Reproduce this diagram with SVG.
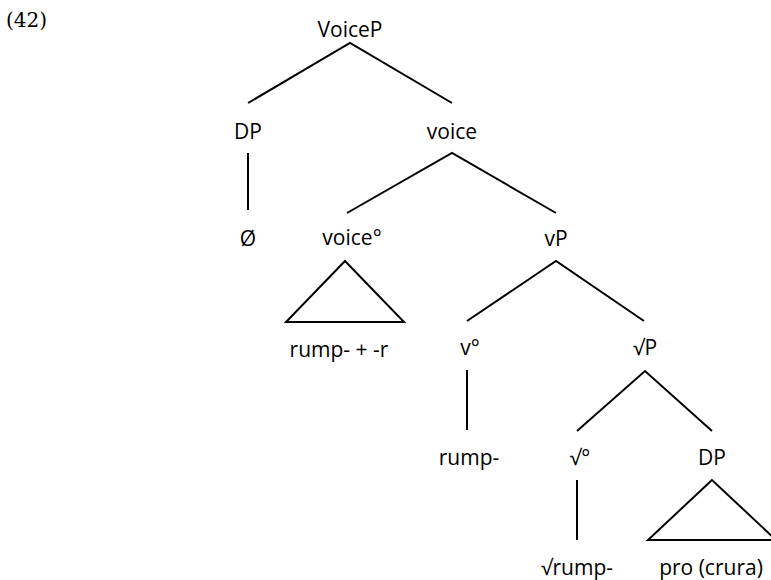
<svg xmlns="http://www.w3.org/2000/svg" width="771" height="580" viewBox="0 0 771 580">
<style>
text{font-family:"Open Sans","Noto Sans",sans-serif;font-size:21px;fill:#000;text-anchor:middle}
.num{font-family:"DejaVu Serif","Liberation Serif",serif;font-size:20px;text-anchor:start}
.e{stroke:#000;stroke-width:2;fill:none}
</style>
<rect width="771" height="580" fill="#fff"/>
<text class="num" x="6" y="27">(42)</text>
<g id="n-voiceP"><text x="350" y="37">VoiceP</text></g>
<g id="n-dp1"><text x="248" y="139">DP</text></g>
<g id="n-null"><text x="248" y="246">Ø</text></g>
<g id="n-voice"><text x="452" y="139">voice</text></g>
<g id="n-voicehead"><text x="352" y="245">voice°</text></g>
<g id="n-rumpr"><text x="339" y="357">rump- + -r</text></g>
<g id="n-vP"><text x="556" y="246">vP</text></g>
<g id="n-vhead"><text x="470" y="355">v°</text></g>
<g id="n-rump"><text x="469" y="465">rump-</text></g>
<g id="n-rootP"><text x="645" y="355">√P</text></g>
<g id="n-roothead"><text x="580" y="465">√°</text></g>
<g id="n-dp2"><text x="712" y="465">DP</text></g>
<g id="n-rootrump"><text x="577" y="575">√rump-</text></g>
<g id="n-pro"><text x="711" y="575">pro (crura)</text></g>
<g id="edges">
<path class="e" d="M248,103 L350,43 L452,103"/>
<path class="e" d="M248,153 V210"/>
<path class="e" d="M347,213 L452,153 L556,213"/>
<path class="e" d="M345,261 L286,322 H404 Z"/>
<path class="e" d="M467,321 L556,261 L644,321"/>
<path class="e" d="M467,370 V430"/>
<path class="e" d="M577,431 L645,371 L712,431"/>
<path class="e" d="M577,480 V540"/>
<path class="e" d="M712,480 L648,540 H776 Z"/>
</g>
</svg>
